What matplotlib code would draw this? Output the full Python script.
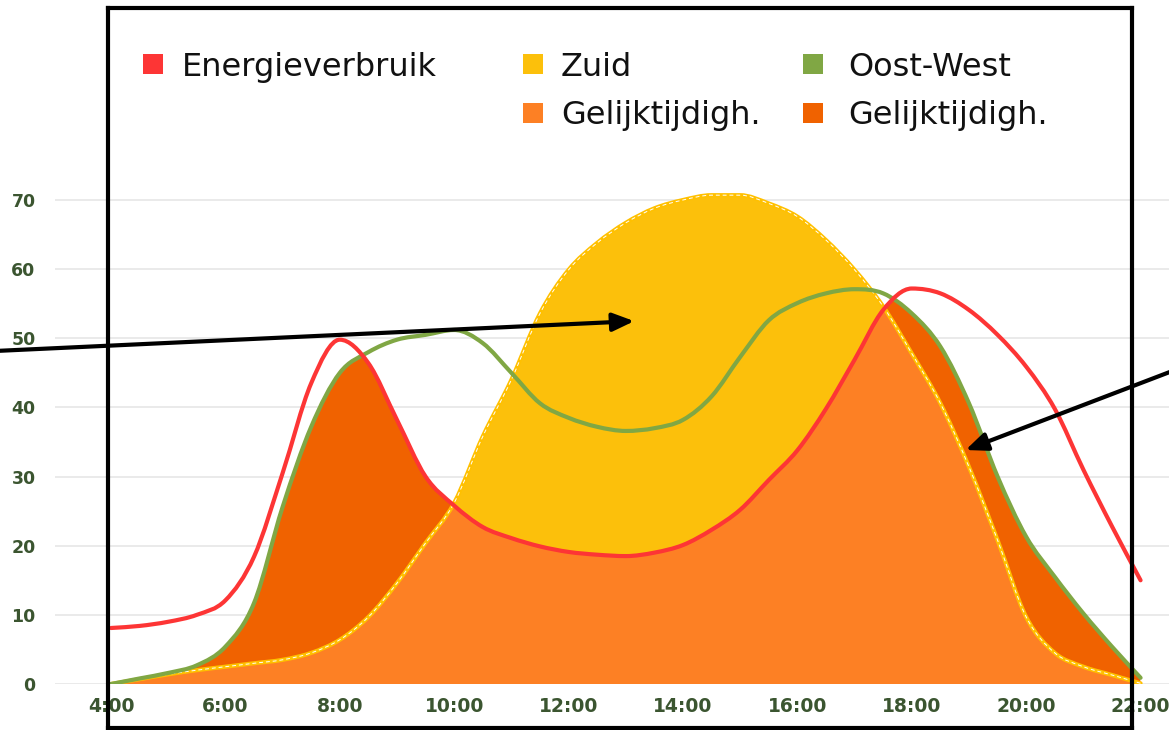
import numpy as np
import matplotlib.pyplot as plt
from matplotlib.patches import Rectangle, PathPatch
from matplotlib.lines import Line2D
from matplotlib.path import Path

# half-hour steps 4:00 .. 22:00
hours = np.arange(4, 22.01, 0.5)

verbruik = [8.1, 8.4, 9.0, 10.0, 12.1, 18.4, 30.5, 43.5, 49.8, 46.4, 38.2, 30.0,
            25.8, 22.7, 21.1, 19.9, 19.1, 18.7, 18.5, 19.0, 20.1, 22.3, 25.2, 29.5,
            33.8, 39.8, 46.9, 54.1, 57.2, 56.5, 54.1, 50.5, 45.9, 39.8, 31.0, 22.8, 15.0]
zuid = [0.0, 0.7, 1.4, 2.0, 2.5, 3.0, 3.5, 4.5, 6.4, 9.7, 14.6, 20.4,
        26.2, 35.8, 44.0, 53.6, 59.9, 63.8, 66.7, 68.8, 70.0, 70.7, 70.7, 69.5,
        67.6, 64.2, 59.9, 54.6, 47.8, 40.6, 31.4, 20.8, 9.7, 4.5, 2.5, 1.3, 0.1]
oostwest = [0.0, 0.8, 1.6, 2.7, 5.4, 11.7, 25.6, 37.2, 45.0, 48.0, 49.8, 50.5,
            51.2, 49.3, 45.0, 40.6, 38.5, 37.2, 36.6, 37.0, 38.2, 41.6, 47.3, 52.6,
            55.1, 56.5, 57.1, 56.5, 53.6, 48.8, 40.6, 30.0, 21.3, 15.5, 10.2, 5.4, 0.9]

xticks = [4, 6, 8, 10, 12, 14, 16, 18, 20, 22]
xlabels = ['4:00', '6:00', '8:00', '10:00', '12:00', '14:00', '16:00', '18:00', '20:00', '22:00']
yticks = [0, 10, 20, 30, 40, 50, 60, 70]

legend_names = ['Energieverbruik', 'Zuid', 'Oost-West', 'Gelijktijdigh.', 'Gelijktijdigh.']

RED = '#fd3535'
YELLOW = '#fcc00b'
GREEN = '#80a744'
ORANGE = '#fd8024'
DARKORANGE = '#f06200'
TICKCOL = '#3b5530'


def curve(x, y, area=False):
    # monotone cubic bezier through the points (like chart.js "monotone")
    x = np.asarray(x, float)
    y = np.asarray(y, float)
    d = np.diff(y) / np.diff(x)
    m = np.zeros_like(y)
    m[0], m[-1] = d[0], d[-1]
    m[1:-1] = (d[:-1] + d[1:]) / 2
    m[1:-1][d[:-1] * d[1:] <= 0] = 0
    for i in range(len(d)):
        if d[i] == 0:
            m[i] = m[i + 1] = 0
            continue
        a, b = m[i] / d[i], m[i + 1] / d[i]
        s = a * a + b * b
        if s > 9:
            t = 3 / np.sqrt(s)
            m[i], m[i + 1] = t * a * d[i], t * b * d[i]
    verts = [(x[0], y[0])]
    codes = [Path.MOVETO]
    for i in range(len(d)):
        h = x[i + 1] - x[i]
        verts += [(x[i] + h / 3, y[i] + m[i] * h / 3),
                  (x[i + 1] - h / 3, y[i + 1] - m[i + 1] * h / 3),
                  (x[i + 1], y[i + 1])]
        codes += [Path.CURVE4] * 3
    if area:
        verts = [(x[0], 0)] + verts + [(x[-1], 0), (x[0], 0)]
        codes = [Path.MOVETO, Path.LINETO] + codes[1:] + [Path.LINETO, Path.CLOSEPOLY]
    return Path(verts, codes)


W, H = 1169, 730
fig = plt.figure(figsize=(W / 100, H / 100), dpi=100)
ax = fig.add_axes([55 / W, 46 / H, 1114 / W, 75 * 6.914 / H])

td = ax.transData
ax.add_patch(PathPatch(curve(hours, zuid, True), fc=YELLOW, lw=0, zorder=2, transform=td))

dark = PathPatch(curve(hours, verbruik, True), fc=DARKORANGE, lw=0, zorder=3, transform=td)
ax.add_patch(dark)
dark.set_clip_path(PathPatch(curve(hours, oostwest, True), transform=td))

light = PathPatch(curve(hours, verbruik, True), fc=ORANGE, lw=0, zorder=4, transform=td)
ax.add_patch(light)
light.set_clip_path(PathPatch(curve(hours, zuid, True), transform=td))

ax.add_patch(PathPatch(curve(hours, zuid), fill=False, ec='#ffc000', lw=3,
                       capstyle='round', zorder=5, transform=td))
ax.add_patch(PathPatch(curve(hours, zuid), fill=False, ec='white', lw=0.7,
                       ls=(0, (4, 3)), zorder=5.5, transform=td))
ax.add_patch(PathPatch(curve(hours, oostwest), fill=False, ec=GREEN, lw=3,
                       capstyle='round', zorder=6, transform=td))
ax.add_patch(PathPatch(curve(hours, verbruik), fill=False, ec=RED, lw=3,
                       capstyle='round', zorder=7, transform=td))

ax.set_xlim(3.021, 22.497)
ax.set_ylim(0, 75)
ax.set_yticks(yticks)
ax.set_xticks(xticks)
ax.set_xticklabels(xlabels, family=['Liberation Sans Narrow', 'DejaVu Sans'],
                   fontweight='bold', fontsize=13.5, color=TICKCOL)
ax.set_yticklabels([str(t) for t in yticks], family='DejaVu Sans',
                   fontweight='bold', fontsize=12.5, color=TICKCOL)
ax.tick_params(axis='both', length=0)
ax.tick_params(axis='y', pad=14)
ax.tick_params(axis='x', pad=9)
ax.grid(axis='y', color='#e6e6e6', lw=1.2, zorder=0)
for s in ax.spines.values():
    s.set_visible(False)

# legend drawn by hand in figure pixels
leg = [(143, 64, 76, RED, legend_names[0], 182),
       (523, 64, 76, YELLOW, legend_names[1], 561),
       (803, 64, 76, GREEN, legend_names[2], 848),
       (523, 113, 124, ORANGE, legend_names[3], 561),
       (803, 113, 124, DARKORANGE, legend_names[4], 848)]
for sx, sy, base, col, name, tx in leg:
    fig.add_artist(Rectangle((sx / W, 1 - (sy + 10) / H), 20 / W, 20 / H,
                             transform=fig.transFigure, color=col, lw=0))
    fig.text(tx / W, 1 - base / H, name, fontsize=23, family='DejaVu Sans',
             va='baseline', ha='left', color='#111111')

# black frame
fx0, fx1, fy0, fy1 = 108, 1132, 8, 728
for xs, ys in [([fx0, fx1], [fy0, fy0]), ([fx0, fx1], [fy1, fy1]),
               ([fx0, fx0], [fy0, fy1]), ([fx1, fx1], [fy0, fy1])]:
    fig.add_artist(Line2D([x / W for x in xs], [1 - y / H for y in ys],
                          transform=fig.transFigure, color='black', lw=3,
                          solid_capstyle='projecting', zorder=20))

# arrows
arrow = dict(arrowstyle='-|>,head_length=1.3,head_width=0.55', color='black', lw=3)
ax.annotate('', xy=(637, H - 321), xytext=(-5, H - 351),
            xycoords='figure pixels', textcoords='figure pixels',
            arrowprops=arrow, annotation_clip=False, zorder=21)
ax.annotate('', xy=(963, H - 451), xytext=(1175, H - 370),
            xycoords='figure pixels', textcoords='figure pixels',
            arrowprops=arrow, annotation_clip=False, zorder=21)

fig.savefig('out.png', dpi=100)
